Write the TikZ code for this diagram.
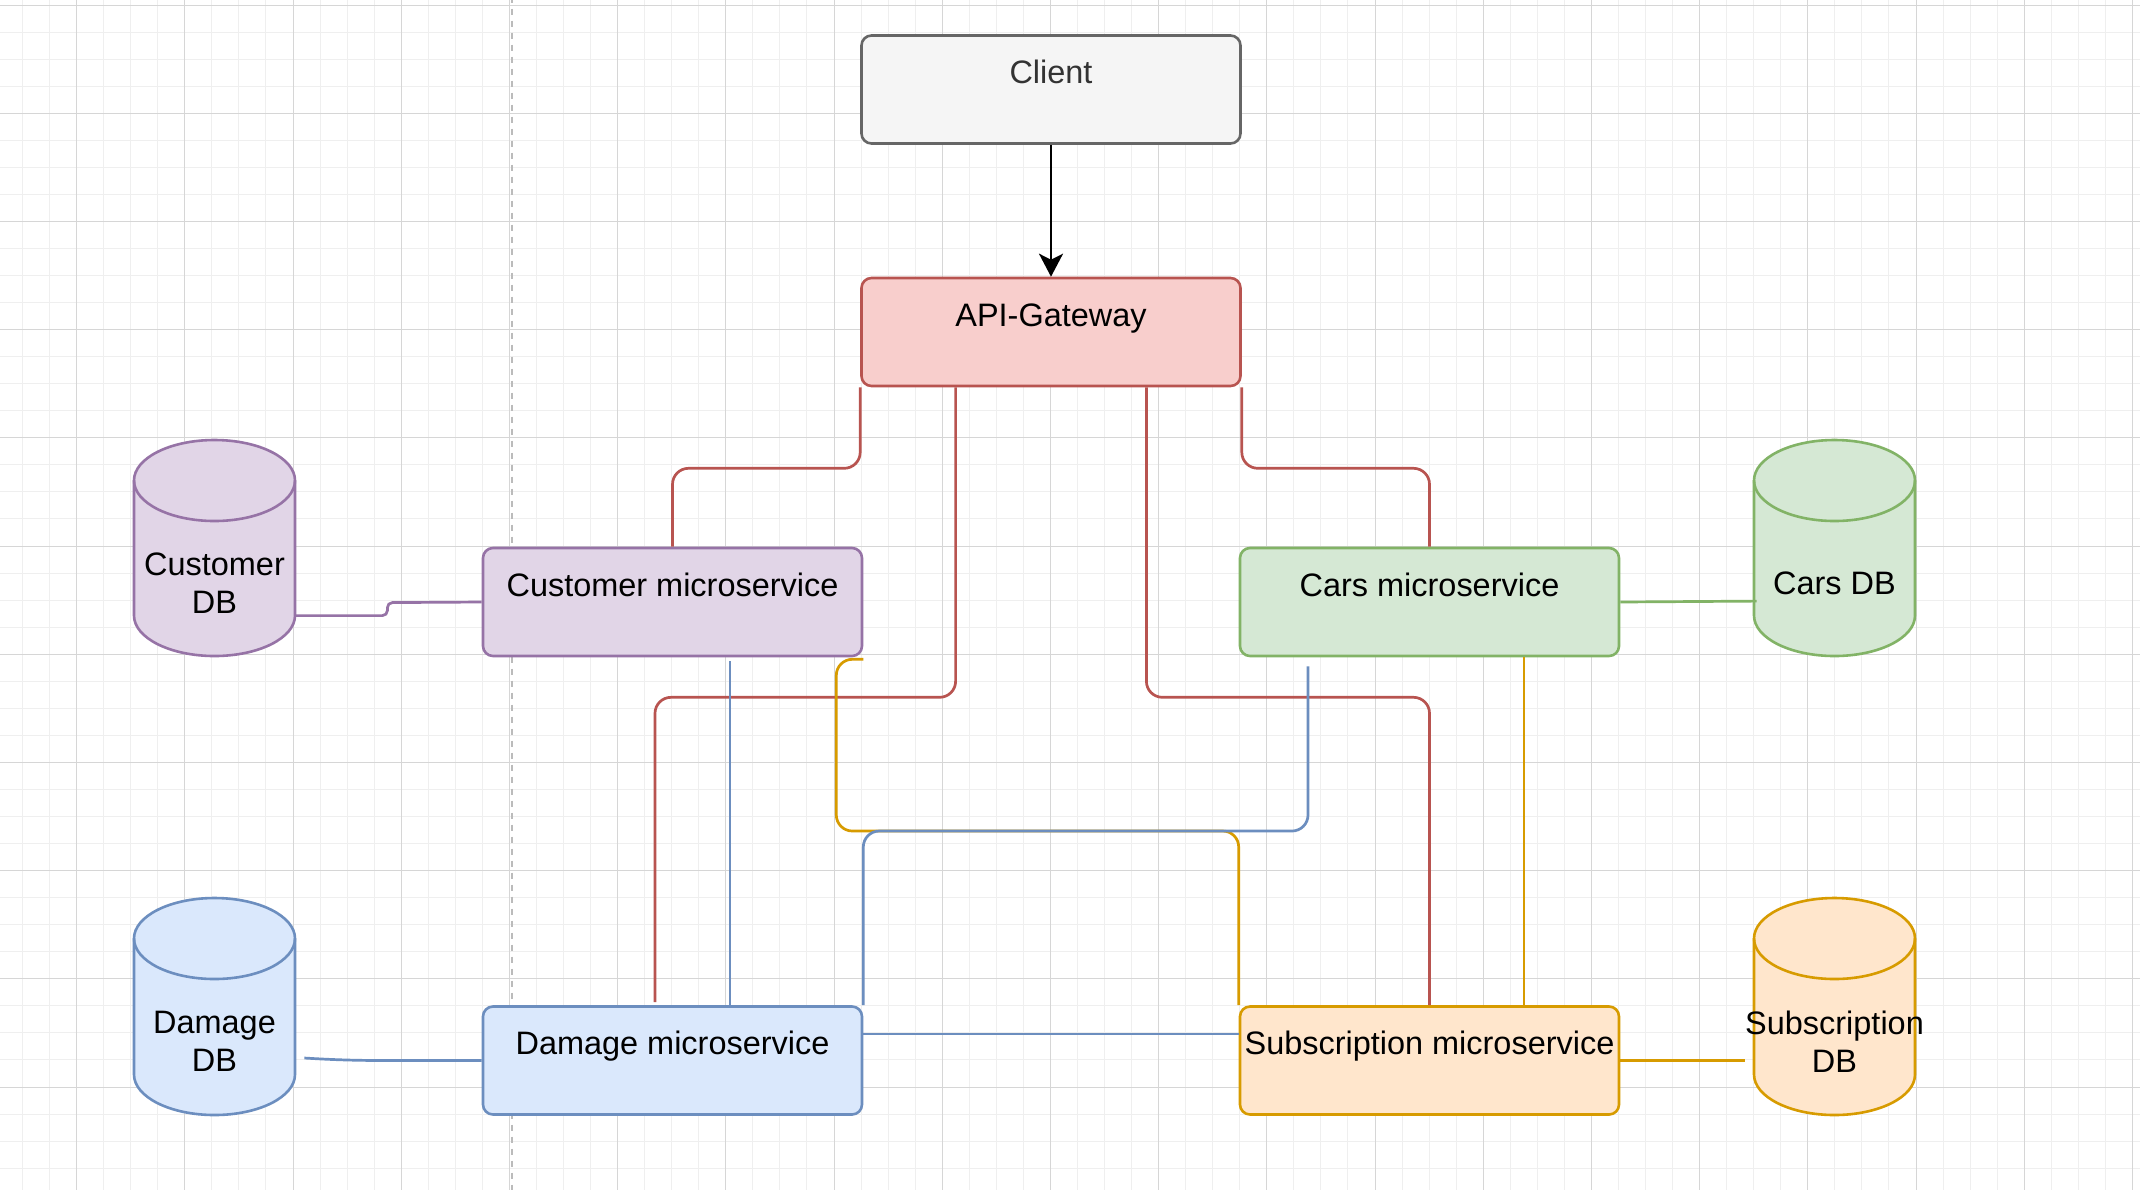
\documentclass[tikz,border=0pt]{standalone}
\usepackage{fontspec}
\setmainfont{Liberation Sans}
\usetikzlibrary{arrows.meta,calc}
\definecolor{gridminor}{HTML}{EFEFEF}
\definecolor{gridmajor}{HTML}{D6D6D6}
\definecolor{dashgray}{HTML}{BBBBBB}
\definecolor{cfill}{HTML}{F5F5F5}\definecolor{cdraw}{HTML}{666666}\definecolor{ctext}{HTML}{333333}
\definecolor{rfill}{HTML}{F8CECC}\definecolor{rdraw}{HTML}{B85450}
\definecolor{pfill}{HTML}{E1D5E7}\definecolor{pdraw}{HTML}{9673A6}
\definecolor{gfill}{HTML}{D5E8D4}\definecolor{gdraw}{HTML}{82B366}
\definecolor{bfill}{HTML}{DAE8FC}\definecolor{bdraw}{HTML}{6C8EBF}
\definecolor{ofill}{HTML}{FFE6CC}\definecolor{odraw}{HTML}{D79B00}
\newcommand\drawdbcyl[5]{%
  \filldraw[fill=#4, draw=#5, line width=1.3pt]
    (#1,#2+40.5) arc[start angle=180, end angle=0, x radius=40.25pt, y radius=20.25pt]
    -- (#1+161,#3-40.5) arc[start angle=0, end angle=-180, x radius=40.25pt, y radius=20.25pt]
    -- cycle;
  \draw[draw=#5, line width=1.3pt]
    (#1,#2+40.5) arc[start angle=180, end angle=360, x radius=40.25pt, y radius=20.25pt];
}
\begin{document}
\begin{tikzpicture}[x=0.5pt,y=-0.5pt,
  minorgrid/.style={draw=gridminor, line width=0.5pt},
  majorgrid/.style={draw=gridmajor, line width=0.5pt},
  box/.style={rectangle, rounded corners=5pt, line width=1.3pt,
    minimum width=189.5pt, inner sep=0pt, text height=24pt, text depth=30pt,
    font=\fontsize{16.23}{19}\selectfont},
  dblabel/.style={inner sep=0pt, align=center, minimum width=80.5pt,
    font=\fontsize{16.23}{19}\selectfont},
  conn/.style={line width=1.35pt, rounded corners=8pt}]
\useasboundingbox (0,0) rectangle (2140,1190);
\fill[white] (0,0) rectangle (2140,1190);
% grid
\foreach \j in {0,...,78}{\draw[minorgrid] ({22.5+27.05*\j},0) -- ({22.5+27.05*\j},1190);}
\foreach \k in {0,...,43}{\draw[minorgrid] (0,{5+27.05*\k}) -- (2140,{5+27.05*\k});}
\foreach \j in {2,6,...,78}{\draw[majorgrid] ({22.5+27.05*\j},0) -- ({22.5+27.05*\j},1190);}
\foreach \k in {0,4,...,40}{\draw[majorgrid] (0,{5+27.05*\k}) -- (2140,{5+27.05*\k});}
\draw[dashgray, line width=0.85pt, dash pattern=on 3pt off 3pt, dash phase=1.65pt] (511.7,0) -- (511.7,1190);
% boxes
\node[box, fill=cfill, draw=cdraw, text=ctext] (client) at (1051,89.5) {Client};
\node[box, fill=rfill, draw=rdraw] (api) at (1051,332) {API-Gateway};
\node[box, fill=pfill, draw=pdraw] (cust) at (672.5,602) {Customer microservice};
\node[box, fill=gfill, draw=gdraw] (cars) at (1429.5,602) {Cars microservice};
\node[box, fill=bfill, draw=bdraw] (damage) at (672.5,1060.5) {Damage microservice};
\node[box, fill=ofill, draw=odraw] (subs) at (1429.5,1060.5) {Subscription microservice};
% databases
\drawdbcyl{134}{440}{656}{pfill}{pdraw}
\drawdbcyl{1754}{440}{656}{gfill}{gdraw}
\drawdbcyl{134}{898}{1115}{bfill}{bdraw}
\drawdbcyl{1754}{898}{1115}{ofill}{odraw}
\node[dblabel] (custdb) at (214.5,583.6) {Customer\\DB};
\node[dblabel] (carsdb) at (1834.5,583.5) {Cars DB};
\node[dblabel] (damagedb) at (214.5,1041.6) {Damage\\DB};
\node[dblabel] (subsdb) at (1834.5,1041.6) {Subscription\\DB};
% connectors
\draw[line width=1.35pt, -{Stealth[length=11.5pt,width=12pt,inset=3pt]}] (client) -- (api);
\draw[conn, rdraw] (api.south west) -- ++(0,81) -| (cust.north);
\draw[conn, rdraw] (api.south east) -- ++(0,81) -| (cars.north);
\draw[conn, rdraw] ($(api.south west)!0.25!(api.south east)$) -- ++(0,310) -| ([xshift=-8.75pt,yshift=1.5pt]damage.north);
\draw[conn, rdraw] ($(api.south west)!0.75!(api.south east)$) -- ++(0,310) -| (subs.north);
\draw[conn, pdraw, rounded corners=2.5pt] ([yshift=-16pt]custdb.east) -- ++(92,0) -- ++(0,-13) -- (cust.west);
\draw[conn, bdraw] ([xshift=4.5pt,yshift=-8.2pt]damagedb.east) .. controls +(40,2.5) and +(-40,0) .. ([xshift=-36.5pt]damage.west) -- (damage.west);
\draw[conn, gdraw] (cars.east) -- ([xshift=1.5pt,yshift=-8.8pt]carsdb.west);
\draw[conn, odraw] (subs.east) -- (subsdb.west |- subs.east);
\draw[conn, bdraw] ([yshift=13.25pt]damage.east) -- ([yshift=13.25pt]subs.west);
\draw[conn, bdraw] ([xshift=28.75pt,yshift=-2pt]cust.south) -- ([xshift=28.75pt]damage.north);
\draw[conn, odraw] ([yshift=-1pt]cust.south east) -- ++(-27,0) |- ([yshift=87.1pt]subs.north west) -- (subs.north west);
\draw[conn, bdraw] (damage.north east) -- ++(0,-174.2) -| ([xshift=-60.75pt,yshift=-4.5pt]cars.south);
\draw[conn, odraw] ([xshift=47.25pt]cars.south) -- ([xshift=47.25pt]subs.north);
\end{tikzpicture}
\end{document}
